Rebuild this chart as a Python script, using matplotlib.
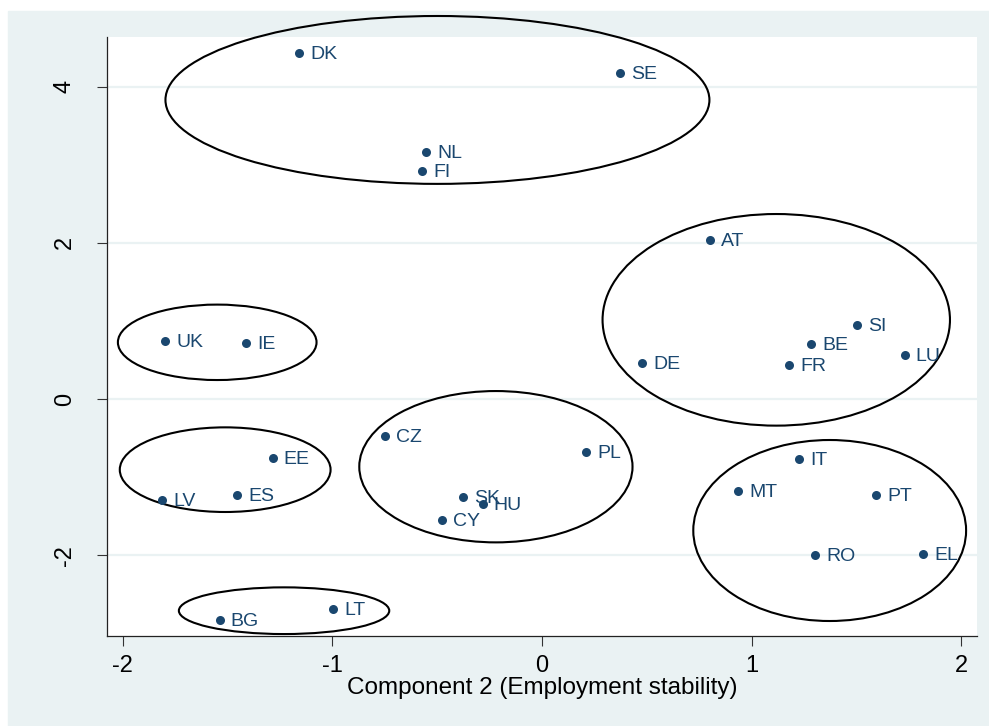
import matplotlib
matplotlib.use("Agg")
from matplotlib import pyplot as plt
from matplotlib.patches import Ellipse, Rectangle

plt.rcParams['font.family'] = ['Liberation Sans', 'DejaVu Sans']

countries = ['DK', 'SE', 'NL', 'FI', 'AT', 'SI', 'BE', 'LU', 'DE', 'FR',
             'UK', 'IE', 'CZ', 'PL', 'EE', 'SK', 'HU', 'CY', 'LV', 'ES',
             'IT', 'MT', 'PT', 'RO', 'EL', 'BG', 'LT']
comp2 = [-1.160, 0.372, -0.554, -0.573, 0.802, 1.502, 1.285, 1.731, 0.479, 1.180,
         -1.798, -1.414, -0.751, 0.210, -1.285, -0.379, -0.283, -0.477, -1.812, -1.454,
         1.227, 0.937, 1.594, 1.303, 1.819, -1.538, -0.996]
comp1 = [4.426, 4.170, 3.166, 2.923, 2.032, 0.944, 0.704, 0.560, 0.461, 0.432,
         0.739, 0.721, -0.470, -0.682, -0.755, -1.259, -1.341, -1.553, -1.289, -1.233,
         -0.764, -1.178, -1.225, -1.997, -1.981, -2.834, -2.693]

# country groups: centre and full width/height of each ellipse
ell_x = [-0.499, -1.550, -1.512, -0.220, 1.118, 1.373, -1.231]
ell_y = [3.830, 0.726, -0.905, -0.867, 1.014, -1.684, -2.711]
ell_w = [2.596, 0.948, 1.006, 1.304, 1.658, 1.302, 1.004]
ell_h = [2.150, 0.966, 1.084, 1.938, 2.710, 2.318, 0.598]

navy = '#1A476F'
bg = '#EAF2F3'

fig = plt.figure(figsize=(9.89, 7.26), dpi=100)
fig.patches.append(Rectangle((8 / 989, 0), 1 - 8 / 989, 1 - 11 / 726,
                             transform=fig.transFigure, color=bg, zorder=-10))
fig.text(20 / 989, 1 + 3.5 / 726, 'Component 1 (Employability)', fontsize=15,
         va='baseline', ha='left')

ax = fig.add_axes([107 / 989, 90 / 726, 870 / 989, 599 / 726])
ax.set_facecolor('white')
ax.set_xlim(-2.076, 2.076)
ax.set_ylim(-3.035, 4.636)

for y in [-2, 0, 2, 4]:
    ax.axhline(y, color=bg, lw=1.6, zorder=0)

ax.plot(comp2, comp1, 'o', color=navy, ms=6.5, mew=0, zorder=3)
for c, x, y in zip(countries, comp2, comp1):
    ax.annotate(c, (x, y), xytext=(8, -1), textcoords='offset points',
                ha='left', va='center', fontsize=14, color=navy, zorder=4)

for x, y, w, h in zip(ell_x, ell_y, ell_w, ell_h):
    ax.add_patch(Ellipse((x, y), w, h, fill=False, ec='black', lw=1.5,
                         clip_on=False, zorder=2))

for s in ['top', 'right']:
    ax.spines[s].set_visible(False)
for s in ['left', 'bottom']:
    ax.spines[s].set_color('#222222')
    ax.spines[s].set_linewidth(0.9)

ax.set_xticks([-2, -1, 0, 1, 2])
ax.set_yticks([-2, 0, 2, 4])
ax.set_xticklabels(['-2', '-1', '0', '1', '2'])
ax.set_yticklabels(['-2', '0', '2', '4'], rotation=90, va='center')
ax.tick_params(axis='both', length=7.5, width=0.8, color='#333333',
               labelsize=17)
ax.tick_params(axis='x', pad=6)
ax.tick_params(axis='y', pad=15)
ax.set_xlabel('Component 2 (Employment stability)', fontsize=17.5, labelpad=0)

fig.savefig('out.png', dpi=100, facecolor='white')
